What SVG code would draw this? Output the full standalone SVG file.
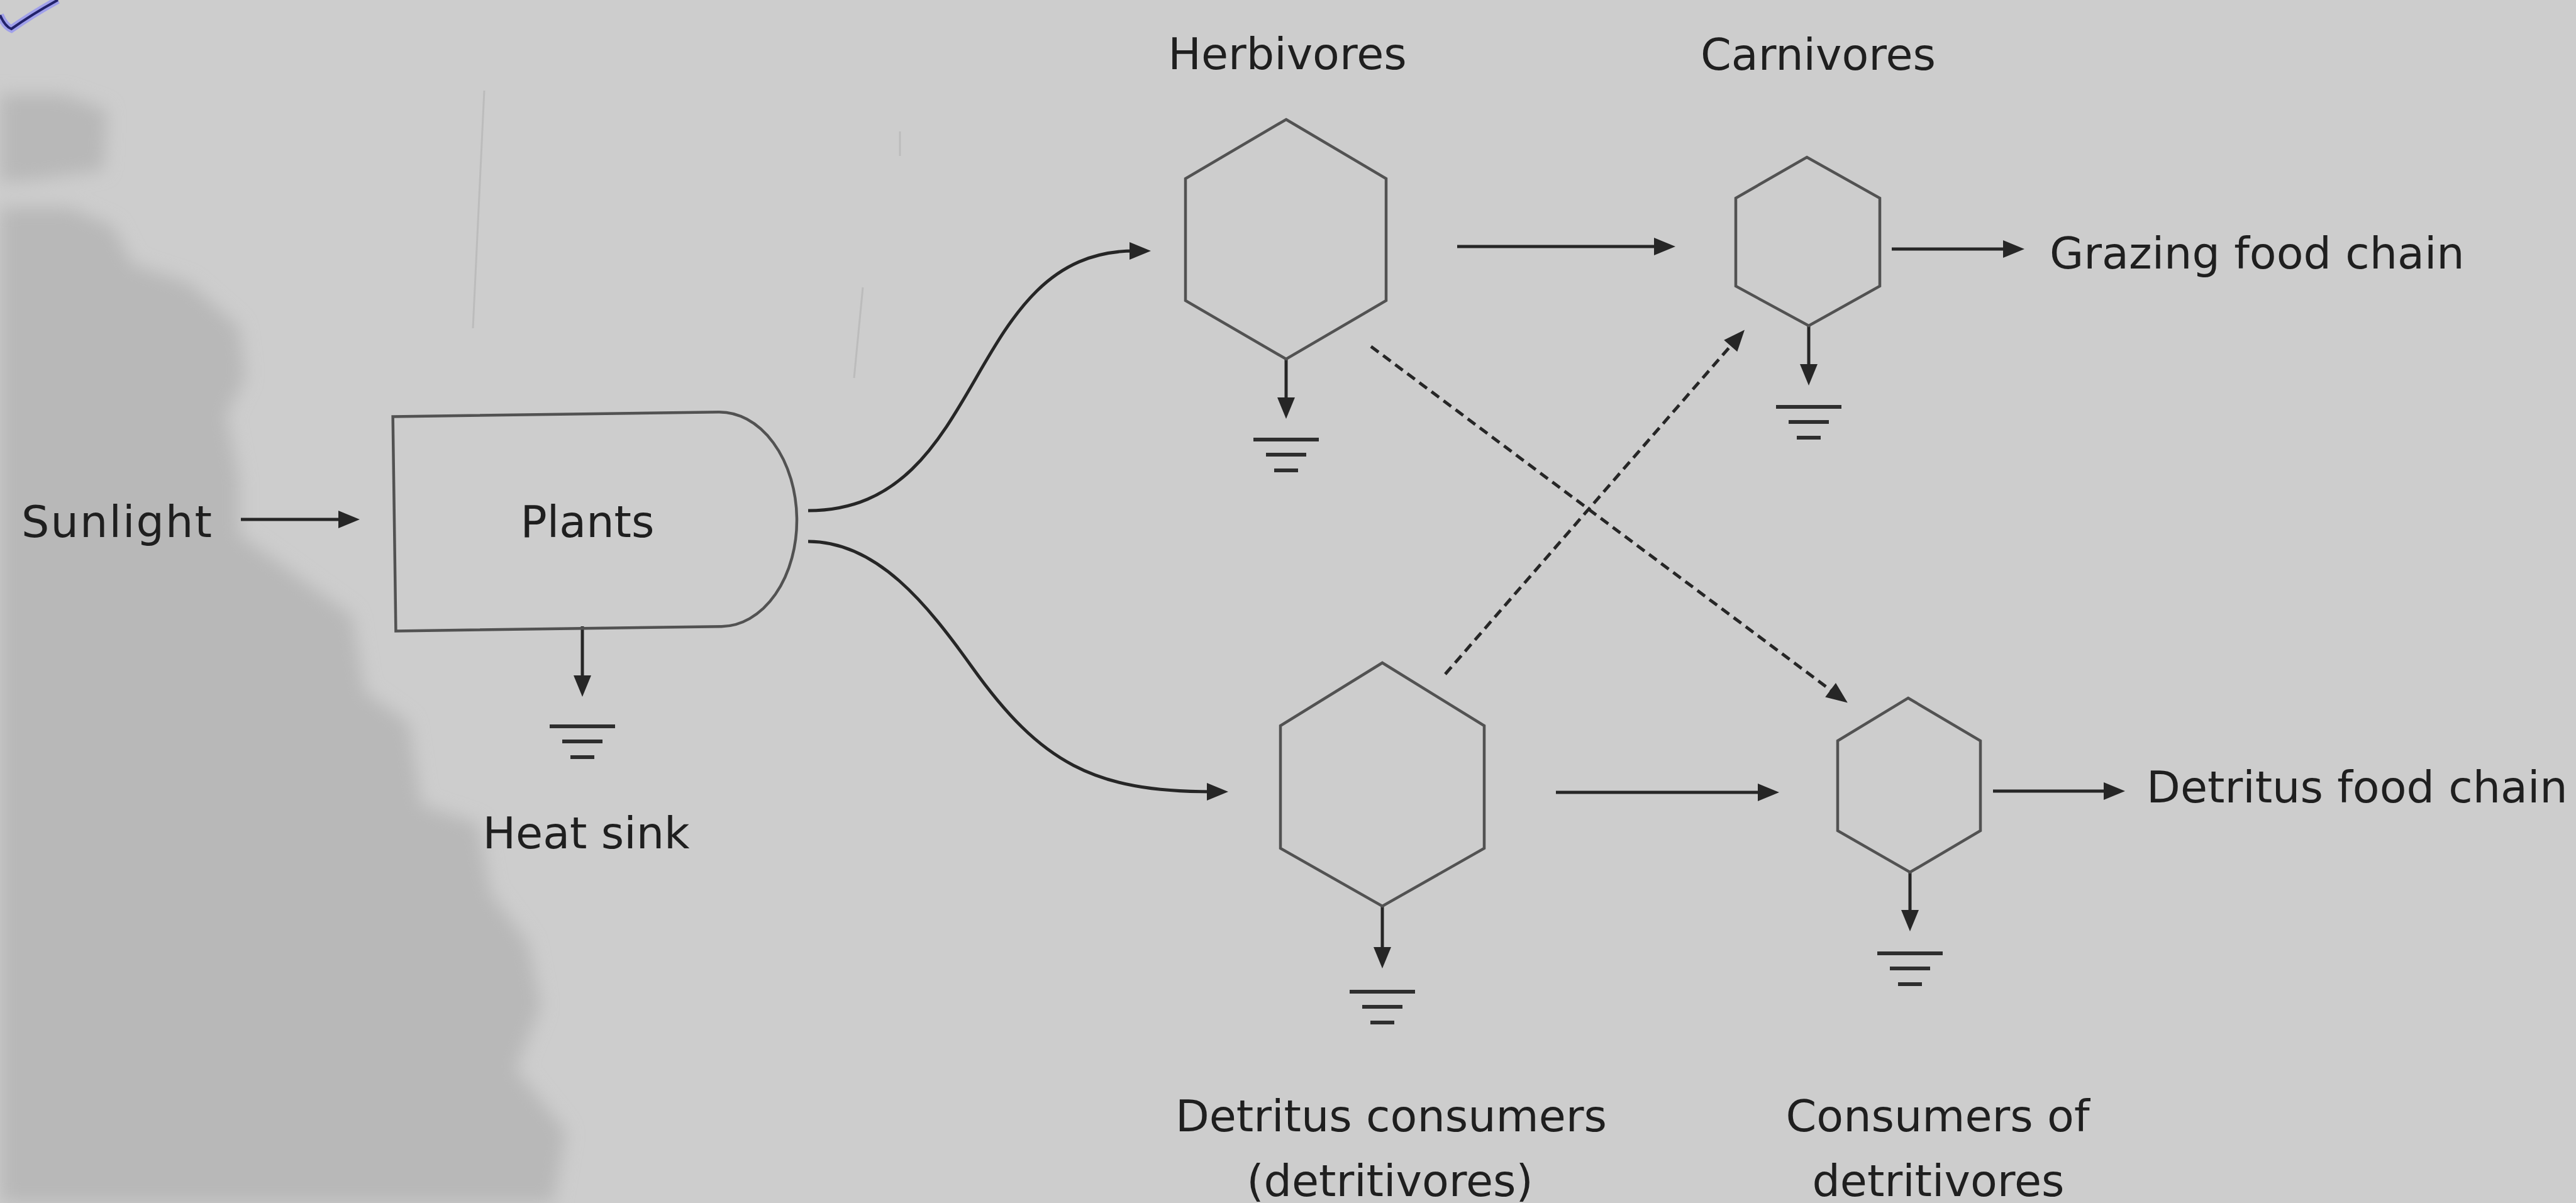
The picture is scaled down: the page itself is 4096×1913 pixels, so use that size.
<svg xmlns="http://www.w3.org/2000/svg" width="4096" height="1913" viewBox="0 0 4096 1913">
<defs>
<style>
.txt{font-family:"DejaVu Sans","Verdana",sans-serif;font-size:70px;fill:#1f1f1f}
.mid{text-anchor:middle}
.hex{fill:none;stroke:#525252;stroke-width:4.5;stroke-linejoin:miter}
.arr{fill:none;stroke:#262626;stroke-width:5}
.dash{fill:none;stroke:#262626;stroke-width:5;stroke-dasharray:15 9}
.gnd{stroke:#2e2e2e;stroke-width:6}
.scan{stroke:#bcbcbc;stroke-width:3;fill:none}
</style>
<marker id="ah" markerUnits="userSpaceOnUse" markerWidth="36" markerHeight="30" refX="8" refY="14" orient="auto" overflow="visible">
<path d="M0,0 L34,14 L0,28 Z" fill="#262626" stroke="none"/>
</marker>
<g id="ground">
<line class="gnd" x1="-52" y1="0" x2="52" y2="0"/>
<line class="gnd" x1="-32" y1="24" x2="32" y2="24"/>
<line class="gnd" x1="-19" y1="49" x2="19" y2="49"/>
</g>
<filter id="soft" x="-20%" y="-20%" width="140%" height="140%">
<feGaussianBlur stdDeviation="14"/>
</filter>
</defs>

<rect x="0" y="0" width="4096" height="1913" fill="#cdcdcd"/>

<g id="background-shadow" fill="#b8b8b8" filter="url(#soft)">
<path d="M0,150 L100,150 L170,175 L165,270 L60,285 L0,290 Z"/>
<path d="M0,330 L110,330 L180,360 L210,420 L300,450 L380,520 L390,600 L360,660 L380,760 L380,850 L450,900 L560,980 L580,1100 L650,1150 L670,1280 L760,1310 L780,1420 L840,1500 L860,1600 L820,1700 L900,1800 L880,1913 L0,1913 Z"/>
</g>
<g id="scan-marks">
<path class="scan" d="M770,144 L752,522"/>
<path class="scan" d="M1372,457 L1358,601"/>
<path class="scan" d="M1431,209 L1431,248"/>
<path d="M0,24 Q8,42 18,46 Q52,22 92,0" fill="none" stroke="#a0a0ea" stroke-width="12"/>
<path d="M0,24 Q8,42 18,46 Q52,22 92,0" fill="none" stroke="#22226a" stroke-width="4"/>
</g>

<g id="connectors">
<line class="arr" x1="383" y1="826" x2="546" y2="826" marker-end="url(#ah)"/>
<path class="arr" d="M1285,812 C1572,812 1530,399 1804,399" marker-end="url(#ah)"/>
<path class="arr" d="M1285,861 C1395,861 1475,962 1545,1060 C1655,1214 1740,1259 1927,1259" marker-end="url(#ah)"/>
<line class="arr" x1="2317" y1="392" x2="2638" y2="392" marker-end="url(#ah)"/>
<line class="arr" x1="3008" y1="396" x2="3193" y2="396" marker-end="url(#ah)"/>
<line class="arr" x1="2474" y1="1260" x2="2803" y2="1260" marker-end="url(#ah)"/>
<line class="arr" x1="3169" y1="1258" x2="3353" y2="1258" marker-end="url(#ah)"/>
<line class="dash" x1="2180" y1="551" x2="2917" y2="1102" marker-end="url(#ah)"/>
<line class="dash" x1="2298" y1="1072" x2="2757" y2="544" marker-end="url(#ah)"/>
<line class="arr" x1="926" y1="996" x2="926" y2="1082" marker-end="url(#ah)"/>
<line class="arr" x1="2045" y1="571" x2="2045" y2="640" marker-end="url(#ah)"/>
<line class="arr" x1="2876" y1="518" x2="2876" y2="587" marker-end="url(#ah)"/>
<line class="arr" x1="2198" y1="1441" x2="2198" y2="1514" marker-end="url(#ah)"/>
<line class="arr" x1="3037" y1="1387" x2="3037" y2="1455" marker-end="url(#ah)"/>
<use href="#ground" x="926" y="1155"/>
<use href="#ground" x="2045" y="699"/>
<use href="#ground" x="2876" y="647"/>
<use href="#ground" x="2198" y="1577"/>
<use href="#ground" x="3037" y="1516"/>
</g>

<g id="sunlight">
<text class="txt" x="34" y="854" textLength="303">Sunlight</text>
</g>
<g id="plants">
<path class="hex" transform="rotate(-0.8 947 828)" d="M627,658 L1145,658 A122,170.5 0 0 1 1145,999 L627,999 Z"/>
<text class="txt mid" x="934" y="854">Plants</text>
</g>
<g id="heat-sink">
<text class="txt mid" x="932" y="1349">Heat sink</text>
</g>
<g id="herbivores">
<polygon class="hex" points="2045,190 2204,284 2204,478 2045,571 1885,478 1885,284"/>
<text class="txt mid" x="2047" y="110">Herbivores</text>
</g>
<g id="carnivores">
<polygon class="hex" points="2873,250 2989,315 2989,455 2876,518 2760,455 2760,315"/>
<text class="txt mid" x="2891" y="111">Carnivores</text>
</g>
<g id="grazing-food-chain">
<text class="txt" x="3259" y="427">Grazing food chain</text>
</g>
<g id="detritus-consumers">
<polygon class="hex" points="2198,1054 2360,1154 2360,1349 2198,1441 2036,1349 2036,1154"/>
<text class="txt mid" x="2212" y="1799">Detritus consumers</text>
<text class="txt mid" x="2210" y="1902">(detritivores)</text>
</g>
<g id="consumers-of-detritivores">
<polygon class="hex" points="3034,1110 3149,1178 3149,1321 3037,1387 2922,1321 2922,1178"/>
<text class="txt mid" x="3081" y="1799">Consumers of</text>
<text class="txt mid" x="3082" y="1902">detritivores</text>
</g>
<g id="detritus-food-chain">
<text class="txt" x="3413" y="1276">Detritus food chain</text>
</g>
</svg>
